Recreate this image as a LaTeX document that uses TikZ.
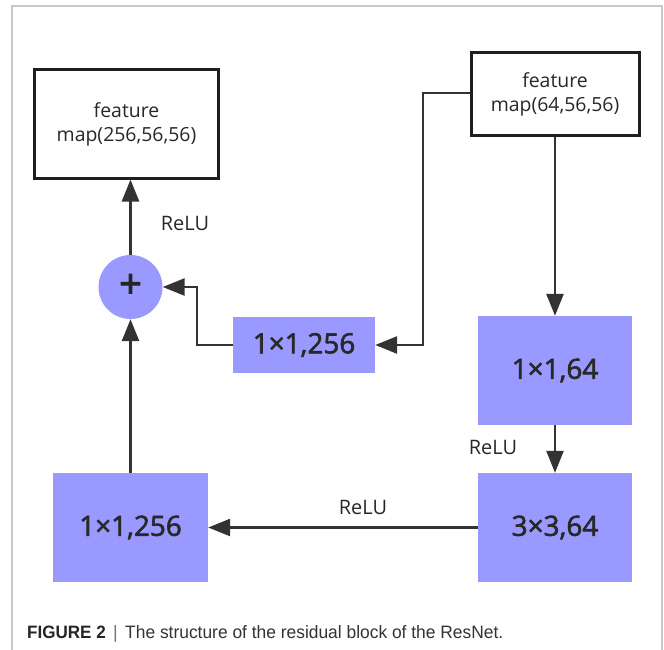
\documentclass[tikz,border=0pt]{standalone}
\usepackage{fontspec}
\setmainfont{Open Sans}
\newfontfamily\labfont[FakeBold=2]{Open Sans}
\newfontfamily\plusfont[FakeBold=2.5]{Open Sans}
\newfontfamily\capfont{Liberation Sans}
\usetikzlibrary{arrows.meta,calc}
\definecolor{boxblue}{RGB}{153,153,255}
\definecolor{linegray}{RGB}{51,51,51}
\definecolor{txtgray}{RGB}{40,40,40}
\definecolor{framegray}{RGB}{200,200,200}
\tikzset{
  conv/.style={fill=boxblue, draw=none, inner sep=0pt, font=\labfont\fontsize{28}{32}\selectfont, text=txtgray},
  fmap/.style={draw=black!88, line width=3bp, fill=white, inner sep=0pt, align=center, font=\fontsize{19.5}{24}\selectfont, text=txtgray},
  plusnode/.style={circle, fill=boxblue, draw=none, minimum size=64bp, inner sep=0pt, font=\plusfont\fontsize{40}{40}\selectfont, text=black!85},
  conn/.style={draw=linegray, line width=2.6bp},
  arr/.style={conn, -{Triangle[length=22bp,width=17bp]}},
  relu/.style={font=\fontsize{20}{22}\selectfont, text=txtgray, inner sep=0pt}
}
\begin{document}
\begin{tikzpicture}[x=1bp,y=-1bp]
\useasboundingbox (0,0) rectangle (664,650);
% frame
\draw[framegray, line width=1.6bp] (12,650) -- (12,6) -- (662,6) -- (662,650);
% nodes
\node[fmap, minimum width=183bp, minimum height=108bp] (fmout) at (126.5,124) {feature\\map(256,56,56)};
\node[fmap, minimum width=168bp, minimum height=82bp] (fmin) at (555,94) {feature\\map(64,56,56)};
\node[plusnode] (plus) at (130.5,287) {\raisebox{2bp}{+}};
\node[conv, minimum width=142bp, minimum height=56bp] (sc) at (304,345) {1×1,256};
\node[conv, minimum width=154bp, minimum height=109bp] (c1) at (555,370.5) {1×1,64};
\node[conv, minimum width=154bp, minimum height=109bp] (c3) at (555,527.5) {3×3,64};
\node[conv, minimum width=155bp, minimum height=109bp] (c4) at (130.5,527.5) {1×1,256};
% connectors
\draw[arr] (fmin.south) -- (c1.north);
\draw[arr] (c1.south) -- (c3.north);
\draw[arr] (c3.west) -- (c4.east);
\draw[arr] (c4.north) -- (plus.south);
\draw[arr] (plus.north) -- (plus.north |- fmout.south);
\coordinate (k1) at (423,93);
\coordinate (k2) at (197,287);
\draw[arr] (fmin.west |- k1) -- (k1) |- (sc.east);
\draw[arr] (sc.west) -| (k2) -- (plus.east);
% labels
\node[relu] (r1) at (185,223) {ReLU};
\node[relu] (r2) at (493,447) {ReLU};
\node[relu] (r3) at (363,507) {ReLU};
% caption
\node[anchor=base west, inner sep=0pt, font=\capfont\bfseries\fontsize{18}{20}\selectfont, text=black!85] (capa) at (27,638) {\scalebox{0.95}[1]{FIGURE 2}};
\node[anchor=base west, inner sep=0pt, font=\capfont\fontsize{18}{20}\selectfont, text=black!55] (capb) at ($(capa.base east)+(7,0)$) {|};
\node[anchor=base west, inner sep=0pt, font=\capfont\fontsize{18}{20}\selectfont, text=black!80] (capc) at ($(capb.base east)+(7,0)$) {\scalebox{0.97}[1]{The structure of the residual block of the ResNet.}};
\end{tikzpicture}
\end{document}
